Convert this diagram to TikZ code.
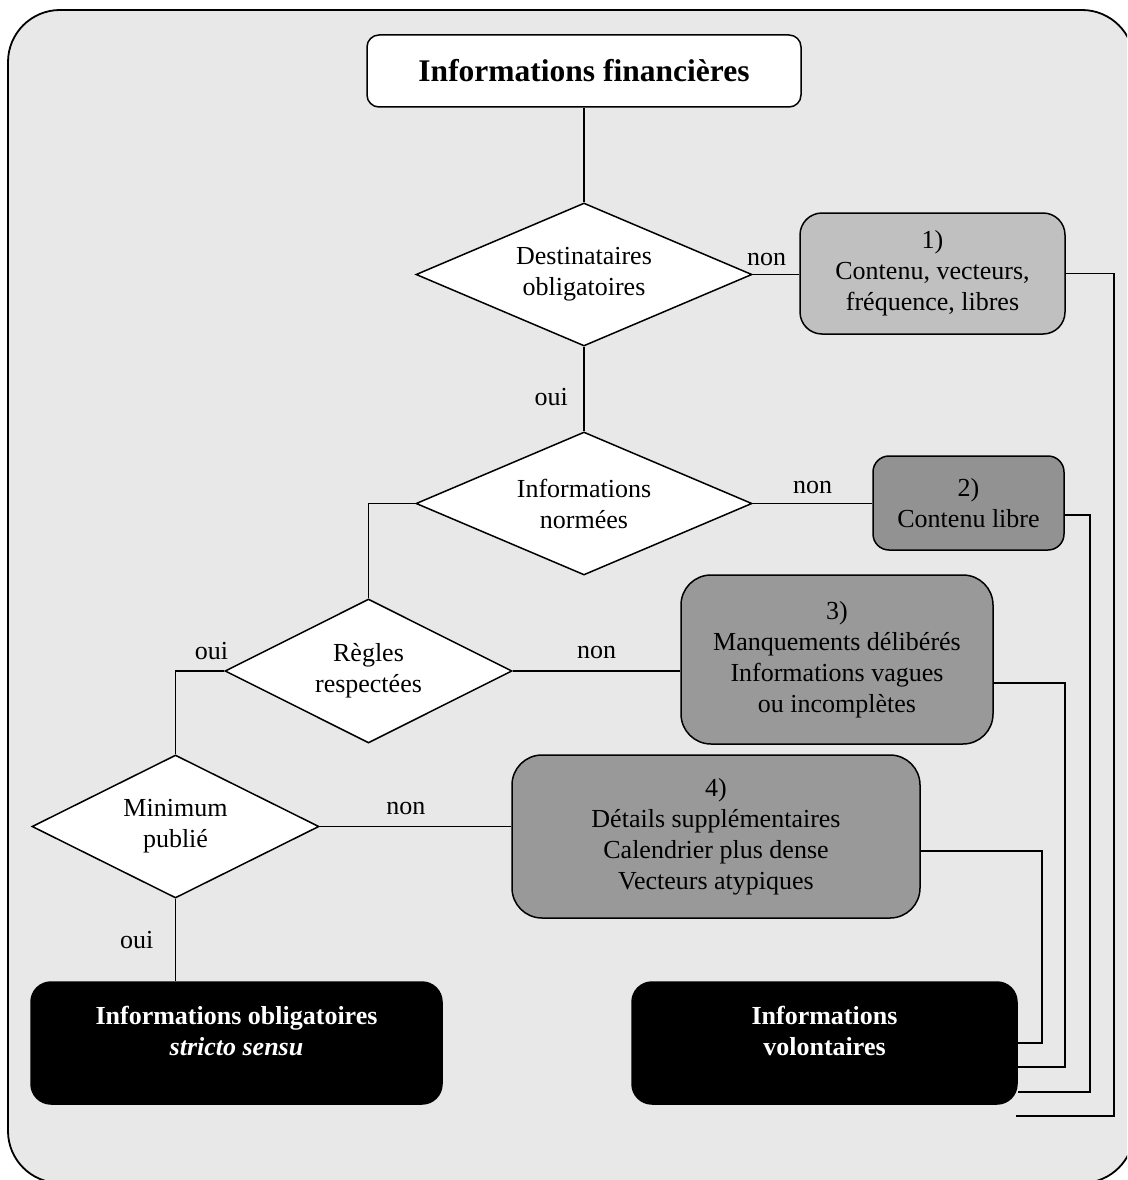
\documentclass[tikz,border=0pt]{standalone}
\usepackage{fontspec}
\setmainfont{Liberation Serif}
\usetikzlibrary{shapes.geometric}
\definecolor{bgc}{RGB}{232,232,232}
\definecolor{g1}{RGB}{192,192,192}
\definecolor{g2}{RGB}{146,146,146}
\definecolor{g3}{RGB}{153,153,153}
\begin{document}
\begin{tikzpicture}[x=1pt,y=-1pt,line width=1.5pt,
  txt/.style={font=\fontsize{26}{31}\selectfont, align=center},
  dec/.style={diamond, draw, fill=white, inner sep=0pt, aspect=2.2, txt},
  rbox/.style={draw, txt, inner sep=0pt},
  blk/.style={rbox, fill=black, draw=black, rounded corners=20pt, minimum width=#1, minimum height=122pt},
  lbl/.style={font=\fontsize{26}{31}\selectfont}
]
\useasboundingbox (0,0) rectangle (1127,1180);
\clip (0,0) rectangle (1127,1180);
\draw[fill=bgc, line width=1.8pt, rounded corners=52pt] (8,10) rectangle (1134,1183);

\node[rbox, fill=white, rounded corners=12pt, minimum width=434pt, minimum height=72pt,
      font=\fontsize{31.5}{36}\selectfont\bfseries] (top) at (584,71) {Informations financières};

\node[dec, minimum width=336pt, minimum height=143pt] (d1) at (584,274.5) {Destinataires\\obligatoires};
\node[dec, minimum width=336pt, minimum height=143pt] (d2) at (584,503.5) {Informations\\normées};
\node[dec, minimum width=287pt, minimum height=144pt] (d3) at (368.5,671) {Règles\\respectées};
\node[dec, minimum width=287pt, minimum height=143pt] (d4) at (175.5,826.5) {Minimum\\publié};

\node[rbox, fill=g1, rounded corners=22pt, minimum width=265pt, minimum height=121pt] (b1) at (932.5,273.5)
  {1)\\Contenu, vecteurs,\\fréquence, libres};
\node[rbox, fill=g2, rounded corners=16pt, minimum width=191pt, minimum height=94pt] (b2) at (968.5,503)
  {2)\\Contenu libre};
\node[rbox, fill=g3, rounded corners=30pt, minimum width=312pt, minimum height=169pt] (b3) at (837,659.5)
  {3)\\Manquements délibérés\\Informations vagues\\ou incomplètes};
\node[rbox, fill=g3, rounded corners=30pt, minimum width=408pt, minimum height=163pt] (b4) at (716,836.5)
  {4)\\Détails supplémentaires\\Calendrier plus dense\\Vecteurs atypiques};

\node[blk=411pt] (bo) at (236.5,1043) {};
\node[blk=385pt] (bv) at (824.5,1043) {};
\node[txt, text=white, font=\fontsize{26}{31}\selectfont\bfseries] (bot) at (236.5,1031)
  {Informations obligatoires\\\textit{stricto sensu}};
\node[txt, text=white, font=\fontsize{26}{31}\selectfont\bfseries] (bvt) at (824.5,1031)
  {Informations\\volontaires};

\draw (top.south) -- (d1.north);
\draw (d1.east) -- node[lbl, above=5pt, pos=0.3] (l1) {non} (d1.east -| b1.west);
\draw (d1.south) -- node[lbl, left=12pt, pos=0.6] (l2) {oui} (d2.north);
\draw (d2.east) -- node[lbl, above=6pt] (l3) {non} (d2.east -| b2.west);
\draw (d2.west) -| (d3.north);
\draw (d3.east) -- node[lbl, above=8pt] (l4) {non} (d3.east -| b3.west);
\draw (d3.west) -| node[lbl, above=7pt, pos=0.13] (l5) {oui} (d4.north);
\draw (d4.east) -- node[lbl, above=8pt, pos=0.45] (l6) {non} (d4.east -| b4.west);
\draw (d4.south) -- node[lbl, left=18pt] (l7) {oui} (d4.south |- bo.north);

\coordinate (e1) at (1016,1116);
\draw (b1.east) -- ++(48,0) |- (e1);
\draw ([yshift=-12pt]b2.east) -- ++(25,0) |- ([yshift=-49pt]bv.east);
\draw ([yshift=-23.5pt]b3.east) -- ++(71,0) |- ([yshift=-24pt]bv.east);
\draw ([yshift=-14.5pt]b4.east) -- ++(121,0) |- (bv.east);
\end{tikzpicture}
\end{document}
